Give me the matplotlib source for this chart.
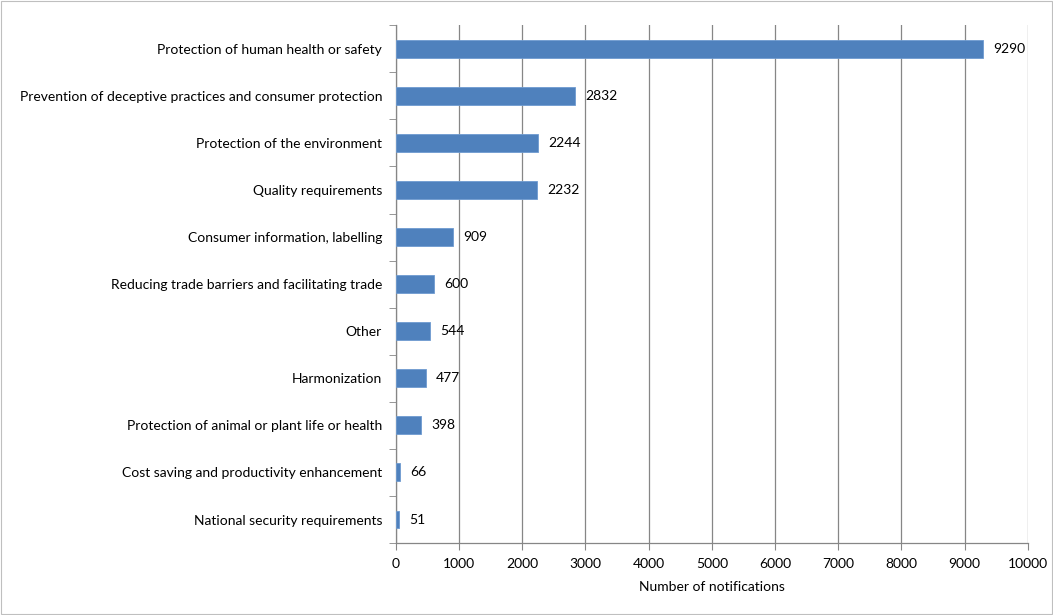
import matplotlib.pyplot as plt
import numpy as np

categories = [
    "Protection of human health or safety",
    "Prevention of deceptive practices and consumer protection",
    "Protection of the environment",
    "Quality requirements",
    "Consumer information, labelling",
    "Reducing trade barriers and facilitating trade",
    "Other",
    "Harmonization",
    "Protection of animal or plant life or health",
    "Cost saving and productivity enhancement",
    "National security requirements",
]
values = [9290, 2832, 2244, 2232, 909, 600, 544, 477, 398, 66, 51]
xticks = list(range(0, 10001, 1000))

plt.rcParams['font.family'] = ['Lato', 'DejaVu Sans']

fig = plt.figure(figsize=(10.53, 6.15), dpi=100)
ax = fig.add_axes([0.376, 0.117, 0.6, 0.842])

n = len(categories)
ypos = np.arange(n)
ax.barh(ypos, values, height=0.38, color='#4F81BD', edgecolor='#6F9BD0', linewidth=0.6, zorder=3)
for y, v in zip(ypos, values):
    ax.text(v + 160, y, str(v), va='center', ha='left', fontsize=10, color='black')

ax.set_ylim(n - 0.5, -0.5)
ax.set_xlim(0, 10000)
ax.set_yticks(ypos)
ax.set_yticklabels(categories, fontsize=10)
ax.set_yticks(np.arange(-0.5, n, 1), minor=True)
ax.tick_params(axis='y', which='major', length=0, pad=10)
ax.tick_params(axis='y', which='minor', length=5, direction='out', color='#868686')
ax.set_xticks(xticks)
ax.set_xticklabels([str(t) for t in xticks], fontsize=10)
ax.tick_params(axis='x', length=5, direction='out', color='#868686', pad=6)
ax.set_xlabel("Number of notifications", fontsize=10, labelpad=8)

ax.grid(axis='x', color='#868686', linewidth=0.9, zorder=0)
for s in ['top', 'right']:
    ax.spines[s].set_visible(False)
for s in ['left', 'bottom']:
    ax.spines[s].set_color('#868686')
    ax.spines[s].set_linewidth(0.9)

# outer frame like the chart area border
fig.patches.append(plt.Rectangle((0.001, 0.001), 0.998, 0.997, transform=fig.transFigure,
                                 fill=False, edgecolor='#BFBFBF', linewidth=0.8))

fig.savefig("out.png", dpi=100)
